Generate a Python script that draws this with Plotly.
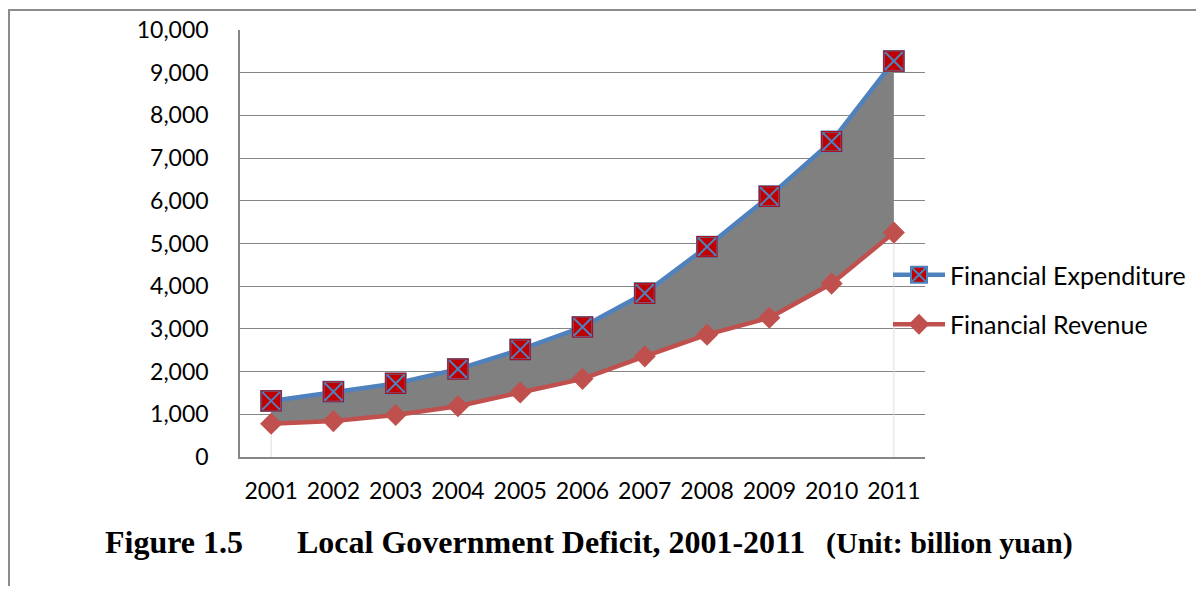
import plotly.graph_objects as go

# ---- data ----
years = ["2001", "2002", "2003", "2004", "2005", "2006", "2007", "2008", "2009", "2010", "2011"]
expenditure = [1313.5, 1528.1, 1723.0, 2059.3, 2515.4, 3043.1, 3833.9, 4924.8, 6104.4, 7388.4, 9273.4]
revenue = [780.3, 840.6, 985.0, 1189.3, 1510.1, 1830.4, 2357.3, 2865.0, 3260.3, 4061.3, 5254.7]
y_ticks = list(range(0, 10001, 1000))
series_names = ["Financial Expenditure", "Financial Revenue"]
caption_parts = ["Figure 1.5", "Local Government Deficit, 2001-2011", "(Unit: billion yuan)"]

# ---- layout geometry (page pixels; the page body has an 8px margin) ----
OFF = 8
W, H = 1204 - 2 * OFF, 594 - 2 * OFF
PL, PR, PT, PB = 240, 925, 30, 457  # plot area in page pixels
L, R, T, B = PL - OFF, PR - OFF, PT - OFF, PB - OFF


def px(x):
    return (x - PL) / (PR - PL)


def py(y):
    return (PB - y) / (PB - PT)


BLUE = "#4F81BD"
RED = "#C0504D"
DARKRED = "#C00000"
GRAY_FILL = "#808080"
GRID = "#868686"
FONT = "Lato"

fig = go.Figure()

# gray deficit band between revenue and expenditure
fig.add_trace(go.Scatter(x=years, y=revenue, mode="lines", line=dict(width=0, color=GRAY_FILL),
                         showlegend=False, hoverinfo="skip"))
fig.add_trace(go.Scatter(x=years, y=expenditure, mode="lines", line=dict(width=0, color=GRAY_FILL),
                         fill="tonexty", fillcolor=GRAY_FILL, showlegend=False, hoverinfo="skip"))

# faint area edges at both ends
for i in (0, len(years) - 1):
    fig.add_trace(go.Scatter(x=[years[i], years[i]], y=[0, revenue[i]], mode="lines",
                             line=dict(width=1, color="#DDDDDD"), showlegend=False, hoverinfo="skip"))

# expenditure line with square-x markers
fig.add_trace(go.Scatter(
    x=years, y=expenditure, name=series_names[0], mode="lines+markers",
    line=dict(color=BLUE, width=4.5),
    marker=dict(symbol="square-x", size=20, color=DARKRED, line=dict(color=BLUE, width=2)),
    legendgroup="a", cliponaxis=False,
))
fig.add_trace(go.Scatter(
    x=years, y=expenditure, mode="markers", showlegend=False, hoverinfo="skip",
    marker=dict(symbol="square-open", size=20, color="#A8141C", line=dict(color="#A8141C", width=1.2)),
    cliponaxis=False,
))

# revenue line with diamond markers
fig.add_trace(go.Scatter(
    x=years, y=revenue, name=series_names[1], mode="lines+markers",
    line=dict(color=RED, width=4.5),
    marker=dict(symbol="diamond", size=17, color=RED),
    legendgroup="b", cliponaxis=False,
))

annotations = [
    dict(text="<b>%s</b>" % caption_parts[0], x=px(103), y=py(542), xref="paper", yref="paper",
         xanchor="left", yanchor="middle", showarrow=False,
         font=dict(family="Liberation Serif", size=32, color="black")),
    dict(text="<b>%s</b>" % caption_parts[1], x=px(295), y=py(542), xref="paper", yref="paper",
         xanchor="left", yanchor="middle", showarrow=False,
         font=dict(family="Liberation Serif", size=32, color="black")),
    dict(text="<b>%s</b>" % caption_parts[2], x=px(824), y=py(543), xref="paper", yref="paper",
         xanchor="left", yanchor="middle", showarrow=False,
         font=dict(family="Liberation Serif", size=30, color="black")),
]

shapes = [
    dict(type="rect", xref="paper", yref="paper", x0=px(9), x1=px(1240), y0=py(10), y1=py(640),
         line=dict(color="#8C8C8C", width=2), fillcolor="rgba(0,0,0,0)", layer="above"),
]

fig.update_layout(
    width=W, height=H,
    margin=dict(l=L, r=W - R, t=T, b=H - B, pad=0, autoexpand=False),
    paper_bgcolor="white", plot_bgcolor="white",
    font=dict(family=FONT, size=23, color="black"),
    showlegend=True,
    legend=dict(x=px(888), xanchor="left", y=py(252), yanchor="top",
                font=dict(family=FONT, size=25, color="black"),
                traceorder="grouped", tracegroupgap=14, itemwidth=52,
                bgcolor="rgba(0,0,0,0)", borderwidth=0),
    annotations=annotations,
    shapes=shapes,
    xaxis=dict(type="category", range=[-0.5, len(years) - 0.5], showgrid=False,
               showline=True, linecolor=GRID, linewidth=1.5, ticks="",
               ticklabelstandoff=13, tickfont=dict(family=FONT, size=23), zeroline=False,
               automargin=False),
    yaxis=dict(range=[0, 10000], tickvals=y_ticks, tickformat=",d", showgrid=True,
               gridcolor=GRID, gridwidth=1.3, showline=True, linecolor=GRID, linewidth=1.5,
               ticks="", ticklabelstandoff=25, tickfont=dict(family=FONT, size=23), zeroline=False,
               automargin=False),
)

fig.write_html("out.html")
